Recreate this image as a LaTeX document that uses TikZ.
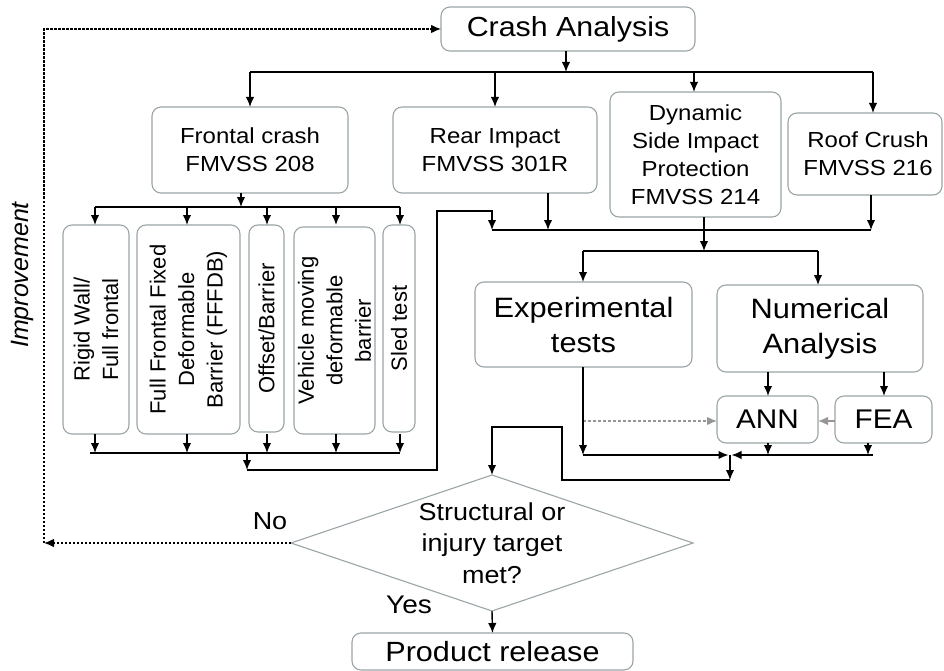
\documentclass[tikz,border=0pt]{standalone}
\usepackage{fontspec}
\setmainfont{Liberation Sans}
\newfontfamily\stf[FakeStretch=1.1]{Liberation Sans}
\usetikzlibrary{arrows.meta,shapes.geometric}
\definecolor{boxline}{RGB}{155,165,168}
\definecolor{grayarr}{RGB}{150,150,150}
\begin{document}
\begin{tikzpicture}[x=1pt,y=-1pt,
  box/.style={draw=boxline, line width=1.1pt, rounded corners=9pt, fill=white, inner sep=0pt, outer sep=0pt, align=center},
  conn/.style={line width=1.4pt, black},
  arr/.style={conn, -{Latex[length=10pt,width=8.5pt]}},
  garr/.style={line width=1.2pt, grayarr, -{Latex[length=10pt,width=8.5pt]}},
  fb/.style={line width=1.1pt, black, dash pattern=on 2.5pt off 1.5pt, -{Latex[length=10pt,width=8.5pt]}},
  tA/.style={font=\stf\fontsize{21.8}{28}\selectfont},
  tB/.style={font=\stf\fontsize{28}{35}\selectfont},
  tR/.style={font=\fontsize{22}{28.5}\selectfont, rotate=90, align=center},
]
\useasboundingbox (0,0) rectangle (944,671);

% top level
\node[box, minimum width=254pt, minimum height=44pt, font=\stf\fontsize{27.6}{33}\selectfont] (crash) at (568,29) {Crash Analysis};
\node[box, minimum width=196pt, minimum height=86pt, tA] (frontal) at (250,150) {Frontal crash\\FMVSS 208};
\node[box, minimum width=204pt, minimum height=86pt, tA] (rear) at (495,150) {Rear Impact\\FMVSS 301R};
\node[box, minimum width=171pt, minimum height=125pt, tA] (dyn) at (695.5,154.5) {Dynamic\\Side Impact\\Protection\\FMVSS 214};
\node[box, minimum width=154pt, minimum height=82pt] (roof) at (865,154) {};
\node[tA, align=center] (rooft) at (868,154) {Roof Crush\\FMVSS 216};

% frontal sub-boxes
\node[box, minimum width=66pt, minimum height=209pt] (r1) at (96,329.5) {};
\node[box, minimum width=103pt, minimum height=209pt] (r2) at (188.5,329.5) {};
\node[box, minimum width=35pt, minimum height=207pt] (r3) at (266.5,328.5) {};
\node[box, minimum width=81pt, minimum height=207pt] (r4) at (334.5,330.5) {};
\node[box, minimum width=32pt, minimum height=207pt] (r5) at (399,328.5) {};
\node[tR] (r1t) at (r1.center) {Rigid Wall/\\Full frontal};
\node[tR] (r2t) at (r2.center) {Full Frontal Fixed\\Deformable\\Barrier (FFFDB)};
\node[tR] (r3t) at (r3.center) {Offset/Barrier};
\node[tR] (r4t) at (r4.center) {Vehicle moving\\deformable\\barrier};
\node[tR] (r5t) at (r5.center) {Sled test};

% analysis
\node[box, minimum width=217pt, minimum height=85pt, tB] (exp) at (583.5,324.5) {Experimental\\tests};
\node[box, minimum width=206pt, minimum height=87pt, tB] (num) at (820,328.5) {Numerical\\Analysis};
\node[box, minimum width=101pt, minimum height=47pt, font=\stf\fontsize{27}{32}\selectfont] (ann) at (767.5,419.5) {ANN};
\node[box, minimum width=97pt, minimum height=47pt, font=\stf\fontsize{27}{32}\selectfont] (fea) at (883.5,419.5) {FEA};

% decision
\node[draw=boxline, line width=1.1pt, diamond, minimum width=402pt, minimum height=136pt, inner sep=0pt, outer sep=0pt] (dia) at (492,543) {};
\node[font=\stf\fontsize{24.5}{31.5}\selectfont, align=center] (diat) at (492,543) {Structural or\\injury target\\met?};
\node[box, minimum width=281pt, minimum height=37pt, font=\stf\fontsize{27.8}{33}\selectfont] (prod) at (492.5,651.5) {Product release};

% labels
\node[font=\stf\fontsize{24.5}{30}\selectfont] (no) at (270,521) {No};
\node[font=\stf\fontsize{25.5}{30}\selectfont] (yes) at (409,605) {Yes};
\node[rotate=90, font=\itshape\fontsize{25}{30}\selectfont] (impr) at (22,275) {Improvement};

% coordinates
\coordinate (c1) at (566,72);
\coordinate (f1) at (241,207);
\coordinate (b1) at (247,453);
\coordinate (b2) at (247,470);
\coordinate (m1) at (492,230);
\coordinate (d1) at (704,251);
\coordinate (e1) at (583,455);
\coordinate (j1) at (730,455);
\coordinate (j2) at (730,480);
\coordinate (fbc) at (44,543);

% connectors top
\draw[arr] (crash.south -| c1) -- (c1);
\draw[conn] (250,72) -- (873,72);
\draw[arr] (250,72) -- (frontal.north);
\draw[arr] (495,72) -- (rear.north);
\draw[arr] (694,72) -- (694,92);
\draw[arr] (873,72) -- (873,113);

% frontal branch
\draw[arr] (frontal.south -| f1) -- (f1);
\draw[conn] (95,207) -- (400,207);
\foreach \b/\x in {r1/95,r2/187,r3/267,r4/336,r5/400}{
  \draw[arr] (\x,207) -- (\x,225);
  \draw[arr] (\x,434) -- (\x,453);
}
\draw[conn] (90,453) -- (400,453);
\draw[arr] (b1) -- (b2);
\draw[arr] (b2) -- (437,470) -- (437,211) -- (492,211) -- (m1);

% merge line
\draw[arr] (548,193) -- (548,230);
\draw[conn] (m1) -- (871,230);
\draw[arr] (871,195) -- (871,230);
\draw[arr] (dyn.south -| d1) -- (d1);
\draw[conn] (583,251) -- (818,251);
\draw[arr] (583,251) -- (583,282);
\draw[arr] (818,251) -- (818,285);

% numerical
\draw[arr] (768,372) -- (768,396);
\draw[arr] (884,372) -- (884,396);
\draw[garr, dash pattern=on 3pt off 2pt] (583,421) -- (ann.west |- 0,421);
\draw[garr] (fea.west |- 0,421) -- (ann.east |- 0,421);

% bottom merge
\draw[arr] (583,367) -- (e1);
\draw[arr] (e1) -- (728.5,455);
\draw[arr] (873,455) -- (731.5,455);
\draw[arr] (768,443) -- (768,455);
\draw[arr] (868,443) -- (868,455);
\draw[arr] (j1) -- (j2);
\draw[arr] (j2) -- (562,480) -- (562,427) -- (492,427) -- (dia.north);

% decision outputs
\draw[arr] (dia.south) -- (prod.north);
\draw[fb] (dia.west) -- (fbc);
\draw[fb] (fbc) |- (crash.west);
\end{tikzpicture}
\end{document}
